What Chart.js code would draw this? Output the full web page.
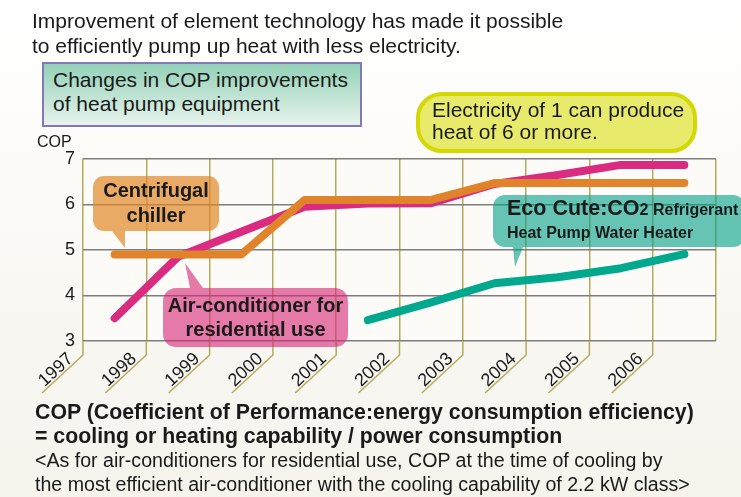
<!DOCTYPE html>
<html>
<head>
<meta charset="utf-8">
<script src="https://cdn.jsdelivr.net/npm/chart.js@4"></script>
<style>
  html, body { margin: 0; padding: 0; }
  body {
    width: 741px; height: 497px; position: relative; overflow: hidden;
    background: linear-gradient(#ffffff 0%, #fbfaf6 40%, #f5f3ec 100%);
    font-family: "Liberation Sans", Arial, Helvetica, sans-serif; color: #1a1a1a;
  }
  #chart { position: absolute; left: 0; top: 0; }
  .abs { position: absolute; white-space: nowrap; }
  .head { left: 32px; top: 8px; font-size: 21px; line-height: 25px; }
  .title-box {
    left: 42px; top: 62px; width: 320px; height: 65px; box-sizing: border-box;
    border: 2px solid #8279b9; background: linear-gradient(#93d1b7, #e7f3ec);
    font-size: 21px; line-height: 24px; padding: 4px 0 0 9px;
  }
  .cop { left: 37px; top: 133px; font-size: 16px; }
  .elec {
    left: 416px; top: 92px; width: 281px; height: 61px; box-sizing: border-box;
    border: 4px solid #d3d800; border-radius: 26px; background: #e8ea6c;
    font-size: 21px; line-height: 22px; padding: 3px 0 0 12px;
  }
  .call { box-sizing: border-box; font-weight: bold; text-align: center; }
  .ptr { position: absolute; }
  .chiller { left: 93px; top: 176px; width: 126px; height: 55px; border-radius: 11px;
    background: rgba(225,135,40,0.7); font-size: 20px; line-height: 25px; padding-top: 2px; }
  .aircon { left: 163px; top: 288px; width: 185px; height: 59px; border-radius: 13px;
    background: rgba(214,40,120,0.62); font-size: 20px; line-height: 24px; padding-top: 5px; }
  .eco { left: 493px; top: 195px; width: 252px; height: 52px; border-radius: 12px;
    background: rgba(0,160,135,0.6); text-align: left; padding: 1px 0 0 14px; font-size: 16px; }
  .eco .l1 { line-height: 24px; }
  .eco .l2 { line-height: 21px; }
  .eco .big { font-size: 21.5px; }
  .foot { left: 35px; top: 400px; }
  .foot .b { font-weight: bold; font-size: 21.3px; line-height: 24px; }
  .foot .r { font-size: 19.6px; line-height: 24px; }
</style>
</head>
<body>
<canvas id="chart" width="741" height="497"></canvas>

<div class="abs head">Improvement of element technology has made it possible<br>to efficiently pump up heat with less electricity.</div>
<div class="abs title-box">Changes in COP improvements<br>of heat pump equipment</div>
<div class="abs cop">COP</div>
<div class="abs elec">Electricity of 1 can produce<br>heat of 6 or more.</div>

<div class="ptr" style="left:112px;top:231px;width:13px;height:17px;background:rgba(225,135,40,0.7);clip-path:polygon(0 0,100% 0,100% 100%);"></div>
<div class="abs call chiller">Centrifugal<br>chiller</div>

<div class="ptr" style="left:185px;top:263px;width:18px;height:25px;background:rgba(214,40,120,0.62);clip-path:polygon(0 0,100% 100%,28% 100%);"></div>
<div class="abs call aircon">Air-conditioner for<br>residential use</div>

<div class="ptr" style="left:513px;top:247px;width:10px;height:20px;background:rgba(0,160,135,0.6);clip-path:polygon(0 0,100% 0,20% 100%);"></div>
<div class="abs call eco"><div class="l1"><span class="big">Eco Cute:CO</span>2 Refrigerant</div><div class="l2">Heat Pump Water Heater</div></div>

<div class="abs foot">
  <div class="b">COP (Coefficient of Performance:energy consumption efficiency)</div>
  <div class="b">= cooling or heating capability / power consumption</div>
  <div class="r">&lt;As for air-conditioners for residential use, COP at the time of cooling by</div>
  <div class="r">the most efficient air-conditioner with the cooling capability of 2.2 kW class&gt;</div>
</div>

<script>
// year labels under the slanted ticks
const years = [1997, 1998, 1999, 2000, 2001, 2002, 2003, 2004, 2005, 2006];
const copTicks = [3, 4, 5, 6, 7];

// COP per year (one point in the middle of each year)
const airconCop  = [3.5, 4.85, 5.4, 5.95, 6.02, 6.03, 6.45, 6.65, 6.87, 6.87];
const chillerCop = [4.9, 4.9, 4.9, 6.1, 6.1, 6.1, 6.47, 6.47, 6.47, 6.47];
const ecoCuteCop = [null, null, null, null, 3.46, 3.85, 4.27, 4.4, 4.6, 4.91];

const OLIVE = "#b3ab5c";
const GRAY = "#7d7d7d";

const toPoints = vals => vals.map((v, i) => ({ x: years[i] + 0.5, y: v }));

const plotBg = {
  id: "plotBg",
  beforeDraw(chart) {
    const { ctx, chartArea: a } = chart;
    ctx.save();
    ctx.fillStyle = "#fcfbf8";
    ctx.fillRect(a.left, a.top, a.right - a.left, a.bottom - a.top);
    ctx.restore();
  }
};

// slanted year ticks + labels
const yearTicks = {
  id: "yearTicks",
  afterDraw(chart) {
    const { ctx, scales: { x }, chartArea: { bottom } } = chart;
    ctx.save();
    ctx.strokeStyle = OLIVE;
    ctx.lineWidth = 1.5;
    ctx.fillStyle = "#1a1a1a";
    ctx.font = '18px "Liberation Sans", Arial, sans-serif';
    ctx.textAlign = "center";
    ctx.textBaseline = "middle";
    years.forEach(yr => {
      const px = x.getPixelForValue(yr);
      ctx.beginPath();
      ctx.moveTo(px, bottom);
      ctx.lineTo(px, bottom + 14);
      ctx.lineTo(px - 41, bottom + 52);
      ctx.stroke();
      ctx.save();
      ctx.translate(px - 27, bottom + 29);
      ctx.rotate(-0.75);
      ctx.fillText(String(yr), 0, 0);
      ctx.restore();
    });
    ctx.restore();
  }
};

new Chart(document.getElementById("chart"), {
  type: "line",
  data: {
    datasets: [
      { data: toPoints(chillerCop), borderColor: "#e0832a" },
      { data: toPoints(airconCop), borderColor: "#da2b81" },
      { data: toPoints(ecoCuteCop), borderColor: "#00a88e" }
    ]
  },
  options: {
    responsive: false,
    animation: false,
    devicePixelRatio: 1,
    layout: { padding: { left: 43, right: 25, top: 159, bottom: 156 } },
    plugins: { legend: { display: false }, tooltip: { enabled: false } },
    elements: {
      line: { borderWidth: 8, tension: 0, borderCapStyle: "round", borderJoinStyle: "round", fill: false },
      point: { radius: 0 }
    },
    scales: {
      x: {
        type: "linear", min: 1997, max: 2007,
        afterFit: s => { s.height = 0; },
        ticks: { display: false, stepSize: 1 },
        grid: { color: OLIVE, lineWidth: 1.5, drawTicks: false },
        border: { display: false }
      },
      y: {
        min: 3, max: 7,
        afterFit: s => { s.width = 40; },
        afterBuildTicks: s => { s.ticks = copTicks.map(v => ({ value: v })); },
        ticks: { color: "#1a1a1a", padding: 8, font: { size: 18, family: '"Liberation Sans", Arial, sans-serif' } },
        grid: { color: GRAY, lineWidth: 1.5, drawTicks: false },
        border: { display: false }
      }
    }
  },
  plugins: [plotBg, yearTicks]
});
</script>
</body>
</html>
